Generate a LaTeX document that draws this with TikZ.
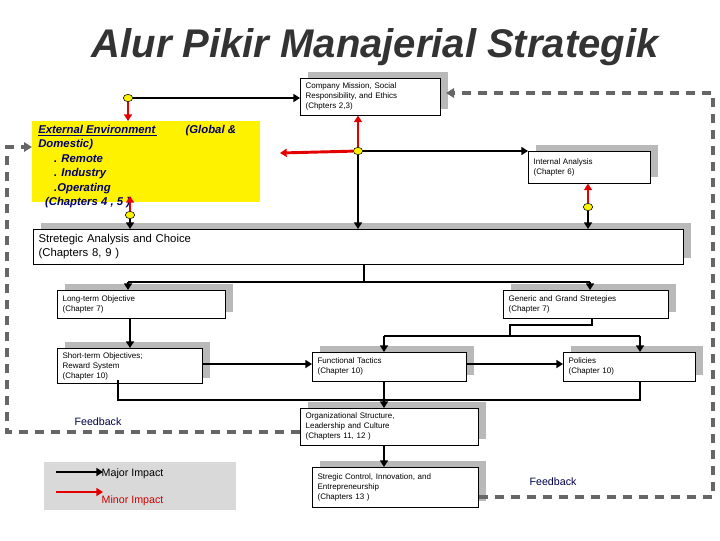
\documentclass[tikz,border=0pt]{standalone}
\usepackage{fontspec}
\setmainfont{Liberation Sans}
\usetikzlibrary{arrows.meta,shadows,shapes.geometric}
\tikzset{
  box/.style={draw=black,fill=white,anchor=north west,align=left,inner sep=3pt,
    font=\fontsize{6}{7.5}\selectfont,
    drop shadow={shadow xshift=5.5pt,shadow yshift=4.5pt,fill=gray!55,opacity=1}},
  sz/.style n args={2}{minimum width=#1*0.75pt,minimum height=#2*0.75pt,text width=#1*0.75pt-8pt},
  dot/.style={ellipse,draw=black,fill=yellow,minimum width=7pt,minimum height=5.5pt,inner sep=0pt},
  maj/.style={draw=black,line width=2.2pt,-{Triangle[length=5pt,width=6pt]}},
  majl/.style={draw=black,line width=2.2pt},
  mino/.style={draw=red!90!black,line width=2.2pt,-{Triangle[length=5pt,width=6pt]}},
  fb/.style={draw=gray!80!black,line width=2.4pt,dash pattern=on 7pt off 5pt},
  fbl/.style={text=blue!30!black,font=\fontsize{8}{9}\selectfont}}
\begin{document}
\begin{tikzpicture}[x=0.75pt,y=-0.75pt]
\useasboundingbox (0,0) rectangle (720,540);
% title
\node (title) at (375,47) {\fontsize{30}{30}\selectfont\bfseries\itshape\textcolor{black!80}{Alur Pikir Manajerial Strategik}};
% boxes
\node[box,sz={140}{37}] (mis) at (300,78) {Company Mission, Social\\Responsibility, and Ethics\\(Chpters 2,3)};
\node[fill=yellow,anchor=north west,minimum width=228*0.75pt,minimum height=81*0.75pt] (ext) at (32,121) {};
\node[anchor=north west,align=left,inner sep=0pt,text=blue!40!black,font=\fontsize{8.5}{10.8}\selectfont\bfseries\itshape] (extt) at (38,125)
 {\underline{External Environment\,}\hspace{2.5em}(Global \&\\Domestic)\\\hspace{1.4em}. Remote\\\hspace{1.4em}. Industry\\\hspace{1.4em}.Operating\\\hspace{0.6em}(Chapters 4 , 5 )};
\node[box,sz={122}{32}] (int) at (528,151) {Internal Analysis\\(Chapter 6)};
\node[box,sz={650}{35},font=\fontsize{8.5}{10.5}\selectfont] (sac) at (33,229) {Stretegic Analysis and Choice\\(Chapters 8, 9 )};
\node[box,sz={168}{28}] (lto) at (57,290) {Long-term Objective\\(Chapter 7)};
\node[box,sz={165}{28}] (gen) at (503,290) {Generic and Grand Stretegies\\(Chapter 7)};
\node[box,sz={145}{32}] (sto) at (57,348) {Short-term Objectives;\\Reward System\\(Chapter 10)};
\node[box,sz={154}{29}] (fun) at (312,352) {Functional Tactics\\(Chapter 10)};
\node[box,sz={132}{29}] (pol) at (563,352) {Policies\\(Chapter 10)};
\node[box,sz={178}{37}] (org) at (300,408) {Organizational Structure,\\Leadership and Culture\\(Chapters 11, 12 )};
\node[box,sz={166}{40}] (ctl) at (312,467) {Stregic Control, Innovation, and\\Entrepreneurship\\(Chapters 13 )};
% dots
\node[dot] (d1) at (128,98) {};
\node[dot] (d2) at (358,151) {};
\node[dot] (d3) at (130,215) {};
\node[dot] (d4) at (588,207) {};
\coordinate (el) at (280,153);
% connectors top
\draw[maj] (d1) -- (d1 -| mis.west);
\draw[mino] (d1) -- (d1 |- ext.north);
\draw[mino] (d2) -- (d2 |- mis.south);
\draw[mino] (d2) -- (el);
\draw[maj] (d2) -- (d2 -| int.west);
\draw[maj] (d2) -- (d2 |- sac.north);
\draw[mino] (d3) -- (130,196);
\draw[maj] (d3) -- (d3 |- sac.north);
\draw[mino] (d4) -- (d4 |- int.south);
\draw[maj] (d4) -- (d4 |- sac.north);
% tree
\coordinate (t1) at (364,282);
\draw[majl] (364,264) -- (t1);
\draw[majl] (128,282) -- (590,282);
\draw[maj] (128,282) -- (128,290);
\draw[maj] (590,282) -- (590,290);
\draw[maj] (130,318) -- (130,348);
\draw[majl] (592,318) -- (592,325) -- (510,325) -- (510,336);
\draw[majl] (384,336) -- (640,336);
\draw[maj] (384,336) -- (384,352);
\draw[maj] (640,336) -- (640,352);
\draw[maj] (sto.east |- 0,364) -- (fun.west |- 0,364);
\draw[maj] (fun.east |- 0,364) -- (pol.west |- 0,364);
\draw[maj] (384,381) -- (384,408);
\draw[majl] (118,380) -- (118,400) -- (640,400) -- (640,381);
\draw[maj] (384,445) -- (384,467);
% feedback
\draw[fb,-{Triangle[length=6pt,width=7pt]}] (org.west |- 0,432) -- (7,432) -- (7,147) -- (ext.west |- 0,147);
\draw[fb,-{Triangle[length=6pt,width=7pt]}] (ctl.east |- 0,497) -- (713,497) -- (713,93) -- (446,93);
\node[fbl] (f1) at (98,422) {Feedback};
\node[fbl] (f2) at (553,482) {Feedback};
% legend
\node[fill=gray!30,anchor=north west,minimum width=192*0.75pt,minimum height=48*0.75pt] (leg) at (44,462) {};
\coordinate (la1) at (56,472); \coordinate (lb1) at (103,472);
\coordinate (la2) at (56,492); \coordinate (lb2) at (103,492);
\draw[maj] (la1) -- (lb1);
\draw[mino] (la2) -- (lb2);
\node[anchor=west,font=\fontsize{8}{9}\selectfont] (l1) at (97,474) {Major Impact};
\node[anchor=west,text=red!80!black,font=\fontsize{8}{9}\selectfont] (l2) at (97,501) {Minor Impact};
\end{tikzpicture}
\end{document}
